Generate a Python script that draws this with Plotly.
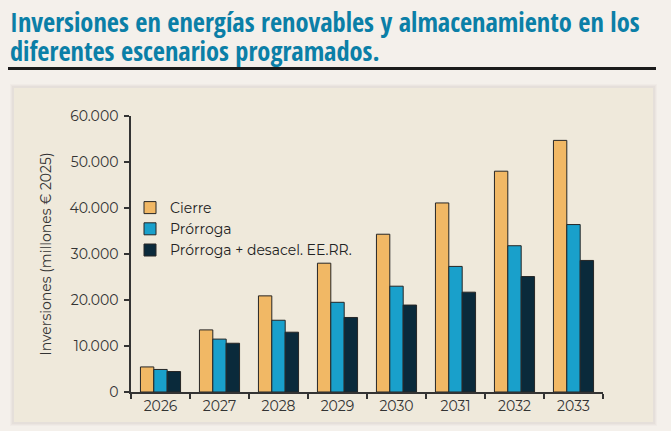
import plotly.graph_objects as go

years = ["2026", "2027", "2028", "2029", "2030", "2031", "2032", "2033"]
cierre = [5450, 13500, 20900, 28000, 34300, 41100, 48000, 54700]
prorroga = [4900, 11500, 15600, 19500, 23000, 27300, 31800, 36400]
prorroga_desacel = [4450, 10600, 13000, 16200, 18900, 21700, 25100, 28600]
series_names = ["Cierre", "Prórroga", "Prórroga + desacel. EE.RR."]
series_colors = ["#f1b865", "#19a0cb", "#0a2a3b"]
y_ticks = [0, 10000, 20000, 30000, 40000, 50000, 60000]

W, H = 671, 431
L, R, T, B = 131, 603, 116, 392  # plot area in pixels

def px(x):
    return (x - L) / (R - L)

def py(y):
    return (B - y) / (B - T)

fig = go.Figure()
for name, vals, col in zip(series_names, [cierre, prorroga, prorroga_desacel], series_colors):
    fig.add_trace(go.Bar(
        x=years, y=vals, name=name,
        marker=dict(color=col, line=dict(color="#262626", width=1)),
    ))

font_main = "Montserrat, DejaVu Sans, sans-serif"
title_font = "Open Sans Condensed, Roboto Condensed, sans-serif"

shapes = []
# panel shadow
for i, op in enumerate([0.03, 0.04, 0.05]):
    d = 4 - i
    shapes.append(dict(type="rect", xref="paper", yref="paper", layer="below",
                       x0=px(14 - d), x1=px(653 + d), y0=py(422 + d), y1=py(88 - d),
                       fillcolor=f"rgba(120,110,100,{op})", line=dict(width=0)))
shapes.append(dict(type="rect", xref="paper", yref="paper", layer="below",
                   x0=px(14), x1=px(653), y0=py(422), y1=py(88),
                   fillcolor="#efe9db", line=dict(width=0)))
# rule under title
shapes.append(dict(type="line", xref="paper", yref="paper",
                   x0=px(8), x1=px(656), y0=py(68.5), y1=py(68.5),
                   line=dict(color="#1b1b1b", width=3)))

annotations = [
    dict(text="<b>Inversiones en energías renovables y almacenamiento en los</b>",
         xref="paper", yref="paper", x=px(8), y=py(2), xanchor="left", yanchor="top",
         showarrow=False, font=dict(family=title_font, size=26.4, color="#0b7fa7")),
    dict(text="<b>diferentes escenarios programados.</b>",
         xref="paper", yref="paper", x=px(8), y=py(31), xanchor="left", yanchor="top",
         showarrow=False, font=dict(family=title_font, size=26.4, color="#0b7fa7")),
]

fig.update_layout(
    width=W, height=H,
    margin=dict(l=L, r=W - R, t=T, b=H - B, pad=0),
    paper_bgcolor="#f4f0eb",
    plot_bgcolor="rgba(0,0,0,0)",
    separators=",.",
    barmode="group", bargap=0.32, bargroupgap=0,
    font=dict(family=font_main, size=14, color="#333333"),
    showlegend=True,
    legend=dict(x=px(130), y=py(192), xanchor="left", yanchor="top",
                bgcolor="rgba(0,0,0,0)", font=dict(size=14, color="#222222"),
                tracegroupgap=0, itemwidth=30),
    shapes=shapes,
    annotations=annotations,
)
fig.update_xaxes(
    type="category", range=[-0.5, 7.5], showline=True, linecolor="#333333", linewidth=1.5,
    ticks="outside", tickson="boundaries", ticklen=5, tickcolor="#333333", tickwidth=1.5,
    showgrid=False, tickfont=dict(size=14, color="#333333"),
)
fig.update_yaxes(
    range=[0, 60000], tickvals=y_ticks, tickformat=",d", showline=True,
    linecolor="#333333", linewidth=1.5, ticks="outside", ticklen=5, tickcolor="#333333",
    tickwidth=1.5, showgrid=False, zeroline=False, tickfont=dict(size=14, color="#333333"),
    title=dict(text="Inversiones (millones € 2025)", font=dict(size=14, color="#333333"), standoff=15),
    ticklabelstandoff=3,
)

fig.write_html("out.html", config={"displayModeBar": False},
               post_script="document.body.style.margin='0';document.body.style.background='#f4f0eb';")
